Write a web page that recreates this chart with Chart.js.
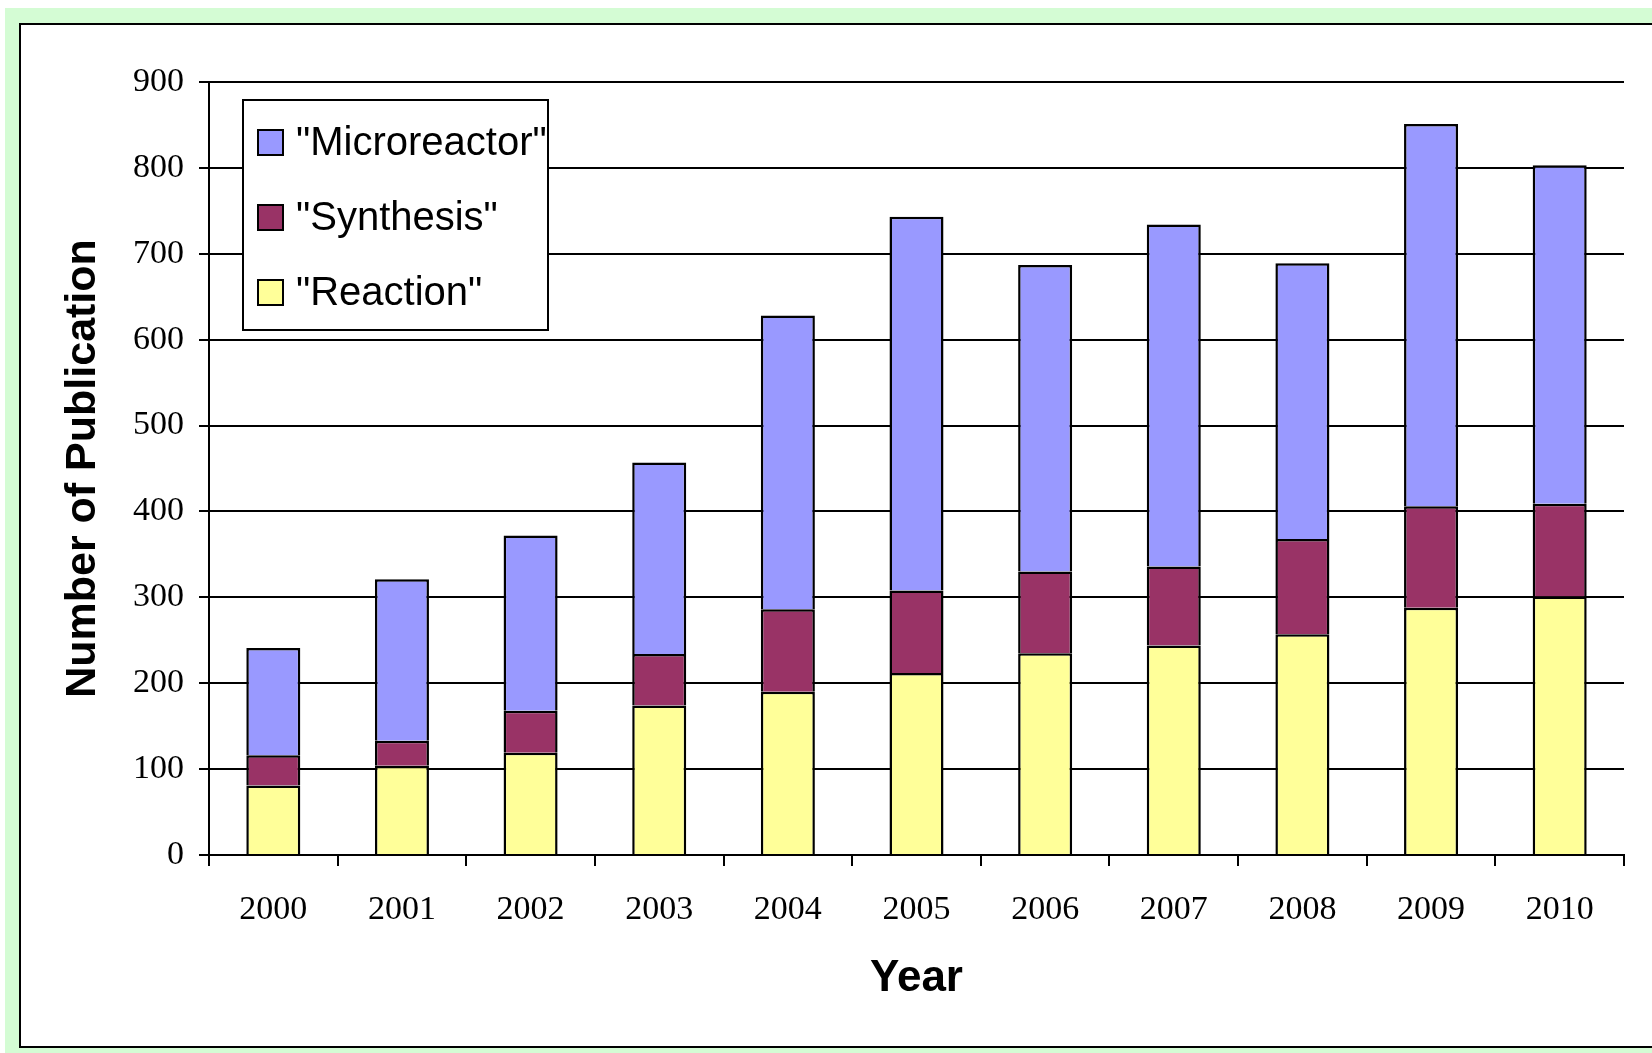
<!DOCTYPE html>
<html>
<head>
<meta charset="utf-8">
<title>Number of Publication by Year</title>
<script src="https://cdn.jsdelivr.net/npm/chart.js@4/dist/chart.umd.min.js"></script>
<style>
    html, body {
        margin: 0;
        padding: 0;
        width: 1652px;
        height: 1053px;
        overflow: hidden;
        background: #fff;
    }
    .frame {
        position: absolute;
        left: 5px;
        top: 8px;
        width: 1700px;
        height: 1100px;
        background: #d4fcd4;
    }
    .panel {
        position: absolute;
        left: 19px;
        top: 23px;
        width: 1700px;
        height: 1025px;
        box-sizing: border-box;
        border: 2px solid #000;
        background: #fff;
    }
    #pubChart {
        position: absolute;
        left: 0;
        top: 0;
    }
</style>
</head>
<body>
<div class="frame"></div>
<div class="panel"></div>
<canvas id="pubChart" width="1652" height="1053"></canvas>
<script>
const years = ['2000', '2001', '2002', '2003', '2004', '2005', '2006', '2007', '2008', '2009', '2010'];
const reactionCounts = [81, 104, 119, 174, 190, 212, 235, 244, 257, 288, 301];
const synthesisCounts = [35, 29, 49, 60, 96, 96, 95, 92, 111, 118, 108];
const microreactorCounts = [125, 188, 204, 223, 342, 435, 357, 398, 321, 445, 394];

const serif = "'Liberation Serif', 'Times New Roman', serif";
const sans = "'Liberation Sans', Arial, sans-serif";

// boxed legend sitting inside the plot, top series first
const insetLegend = {
    id: 'insetLegend',
    afterDraw(chart) {
        const ctx = chart.ctx;
        const area = chart.chartArea;
        const x = area.left + 34;
        const y = area.top + 18;
        const w = 305;
        const h = 230;
        ctx.save();
        ctx.fillStyle = '#fff';
        ctx.fillRect(x, y, w, h);
        ctx.lineWidth = 2;
        ctx.strokeStyle = '#000';
        ctx.strokeRect(x, y, w, h);

        ctx.font = '40px ' + sans;
        ctx.textBaseline = 'middle';
        ctx.textAlign = 'left';
        const items = chart.data.datasets.slice().reverse();
        items.forEach((ds, i) => {
            const cy = y + 42 + i * 75;
            ctx.fillStyle = ds.backgroundColor;
            ctx.fillRect(x + 15, cy - 12, 25, 25);
            ctx.lineWidth = 2;
            ctx.strokeStyle = '#000';
            ctx.strokeRect(x + 15, cy - 12, 25, 25);
            ctx.fillStyle = '#000';
            ctx.fillText(ds.label, x + 53, cy + 2);
        });
        ctx.restore();
    }
};

// bottom edge skipped so stacked segments share a single dividing line
const barStyle = {
    borderColor: '#000',
    borderWidth: 2.5,
    borderSkipped: 'start',
    barPercentage: 0.42,
    categoryPercentage: 1
};

const pubChart = new Chart(document.getElementById('pubChart'), {
    type: 'bar',
    data: {
        labels: years,
        datasets: [
            { label: '"Reaction"', data: reactionCounts, backgroundColor: '#ffff99', ...barStyle },
            { label: '"Synthesis"', data: synthesisCounts, backgroundColor: '#993366', ...barStyle },
            { label: '"Microreactor"', data: microreactorCounts, backgroundColor: '#9999ff', ...barStyle }
        ]
    },
    options: {
        responsive: false,
        animation: false,
        layout: {
            padding: { top: 82, right: 28, bottom: 0, left: 0 }
        },
        plugins: {
            legend: { display: false },
            tooltip: { enabled: false }
        },
        scales: {
            x: {
                stacked: true,
                afterFit(scale) { scale.height = 198; },
                grid: {
                    offset: true,
                    drawOnChartArea: false,
                    drawTicks: true,
                    tickLength: 11,
                    color: '#000',
                    lineWidth: 2
                },
                border: { display: true, color: '#000', width: 2 },
                ticks: {
                    color: '#000',
                    padding: 24,
                    maxRotation: 0,
                    font: { family: serif, size: 34 }
                },
                title: {
                    display: true,
                    text: 'Year',
                    color: '#000',
                    padding: { top: 0, bottom: 48 },
                    font: { family: sans, size: 44, weight: 'bold' }
                }
            },
            y: {
                stacked: true,
                min: 0,
                max: 900,
                afterFit(scale) { scale.width = 209; },
                grid: {
                    color: '#000',
                    lineWidth: 2,
                    drawTicks: true,
                    tickLength: 10
                },
                border: { display: true, color: '#000', width: 2 },
                ticks: {
                    stepSize: 100,
                    color: '#000',
                    padding: 15,
                    font: { family: serif, size: 34 }
                },
                title: {
                    display: true,
                    text: 'Number of Publication',
                    color: '#000',
                    padding: { top: 57, bottom: 0 },
                    font: { family: sans, size: 43, weight: 'bold' }
                }
            }
        }
    },
    plugins: [insetLegend]
});
</script>
</body>
</html>
